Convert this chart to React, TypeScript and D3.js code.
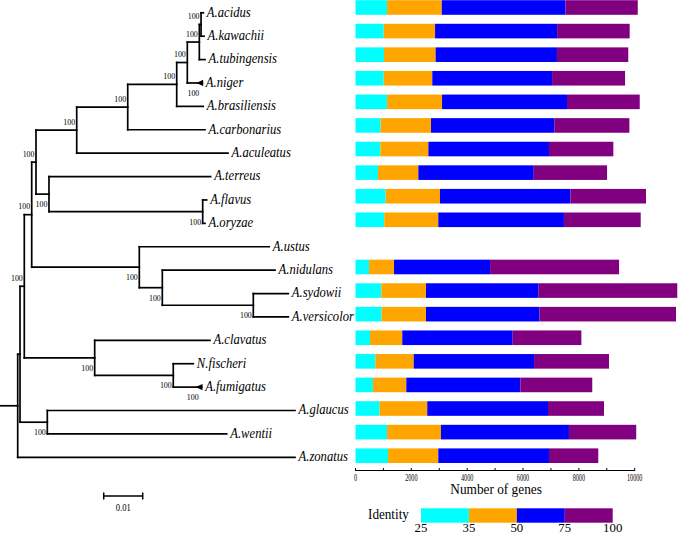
import React from "react";
import * as d3 from "d3";

// ---------- DATA ----------
const species = [
  "A.acidus", "A.kawachii", "A.tubingensis", "A.niger", "A.brasiliensis",
  "A.carbonarius", "A.aculeatus", "A.terreus", "A.flavus", "A.oryzae",
  "A.ustus", "A.nidulans", "A.sydowii", "A.versicolor", "A.clavatus",
  "N.fischeri", "A.fumigatus", "A.glaucus", "A.wentii", "A.zonatus",
];

// number of genes per identity class (segment counts)
const identity25to35 = [1130, 1010, 1020, 1010, 1130, 900, 890, 805, 1080, 1030, 0, 485, 925, 935, 520, 710, 625, 865, 1130, 1165];
const identity35to50 = [1960, 1840, 1850, 1740, 1970, 1805, 1720, 1445, 1945, 1935, 0, 895, 1600, 1590, 1155, 1375, 1195, 1705, 1930, 1800];
const identity50to75 = [4430, 4370, 4345, 4290, 4475, 4415, 4320, 4135, 4670, 4500, 0, 3440, 4020, 4060, 3955, 4310, 4085, 4325, 4585, 3965];
const identity75to100 = [2590, 2600, 2555, 2615, 2605, 2690, 2305, 2625, 2710, 2750, 0, 4620, 4980, 4895, 2460, 2685, 2575, 2005, 2410, 1765];

const identityBreaks = ["25", "35", "50", "75", "100"];
const segmentColors = ["#00FFFF", "#FFA500", "#0000FF", "#800080"];
const axisTicks = [0, 1000, 2000, 3000, 4000, 5000, 6000, 7000, 8000, 9000, 10000];

// phylogeny (branch lengths in substitutions/site)
type TNode = { name?: string; length: number; support?: string; place?: string; tipSupport?: string; children?: TNode[] };
const leaf = (name: string, length: number, tipSupport?: string): TNode => ({ name, length, tipSupport });
const clade = (length: number, support: string | undefined, place: string, children: TNode[]): TNode => ({ length, support, place, children });

const treeData: TNode = clade(0.00454, undefined, "above", [
  clade(0.00059, undefined, "above", [
    clade(0.0011, "100", "above", [
      clade(0.0019, "100", "above", [
        clade(0.0011, "100", "above", [
          clade(0.01044, "100", "above", [
            clade(0.01308, "100", "above", [
              clade(0.01256, "100", "above", [
                clade(0.00272, "100", "above", [
                  clade(0.00308, "100", "above", [
                    clade(0.00044, "100", "above", [
                      leaf("A.acidus", 0.00059),
                      leaf("A.kawachii", 0.00077),
                    ]),
                    leaf("A.tubingensis", 0.00146),
                  ]),
                  leaf("A.niger", 0.00385, "100"),
                ]),
                leaf("A.brasiliensis", 0.00682),
              ]),
              leaf("A.carbonarius", 0.01982),
            ]),
            leaf("A.aculeatus", 0.03879),
          ]),
          clade(0.00333, "100", "below", [
            leaf("A.terreus", 0.04146),
            clade(0.03941, "100", "below", [
              leaf("A.flavus", 0.00103),
              leaf("A.oryzae", 0.00059),
            ]),
          ]),
        ]),
        clade(0.02759, "100", "below", [
          leaf("A.ustus", 0.03333),
          clade(0.0059, "100", "below", [
            leaf("A.nidulans", 0.0289),
            clade(0.02333, "100", "below", [
              leaf("A.sydowii", 0.00897),
              leaf("A.versicolor", 0.00897),
            ]),
          ]),
        ]),
      ]),
      clade(0.01805, "100", "below", [
        leaf("A.clavatus", 0.02956),
        clade(0.02015, "100", "below", [
          leaf("N.fischeri", 0.00513),
          leaf("A.fumigatus", 0.00728, "100"),
        ]),
      ]),
    ]),
    clade(0.007, "100", "below", [
      leaf("A.glaucus", 0.06351),
      leaf("A.wentii", 0.046),
    ]),
  ]),
  leaf("A.zonatus", 0.0711),
]);

// ---------- LAYOUT ----------
const W = 678;
const H = 535;
const SERIF = "'Liberation Serif', 'Times New Roman', serif";

export default function App() {
  // tree scales
  const xTree = d3.scaleLinear().domain([0, 0.01]).range([0, 39]);
  const yTip = d3.scalePoint<string>().domain(species).range([12.8, 457.3]);

  const root = d3.hierarchy<TNode>(treeData, (d) => d.children);
  root.eachBefore((n: any) => {
    const parentDist = n.parent ? n.parent.dist : 0;
    n.dist = parentDist + n.data.length;
  });
  root.eachAfter((n: any) => {
    if (n.children) {
      const ys = n.children.map((c: any) => c.yy);
      n.yy = (ys[0] + ys[ys.length - 1]) / 2;
    } else {
      n.yy = yTip(n.data.name) as number;
    }
  });

  const treeLines: JSX.Element[] = [];
  const treeTexts: JSX.Element[] = [];
  let k = 0;
  root.each((n: any) => {
    const x = xTree(n.dist);
    const px = n.parent ? xTree(n.parent.dist) : xTree(0);
    treeLines.push(<line key={"h" + k++} x1={px} x2={x} y1={n.yy} y2={n.yy} />);
    if (n.children) {
      const ys = n.children.map((c: any) => c.yy);
      treeLines.push(<line key={"v" + k++} x1={x} x2={x} y1={ys[0]} y2={ys[ys.length - 1]} />);
      if (n.data.support) {
        const ty = n.data.place === "above" ? n.yy - 5.5 : n.yy + 13;
        treeTexts.push(
          <text key={"s" + k++} transform={`translate(${x - 1.5},${ty}) scale(0.9,1)`} textAnchor="end" fontSize={8.8} fontFamily={SERIF}>
            {n.data.support}
          </text>
        );
      }
    } else {
      treeTexts.push(
        <text key={"l" + k++} transform={`translate(${x + 3.5},${n.yy + 3.8}) scale(0.93,1)`} fontSize={13.6} fontStyle="italic" fontFamily={SERIF}>
          {n.data.name}
        </text>
      );
      if (n.data.tipSupport) {
        treeLines.push(
          <path key={"m" + k++} d={`M${x - 4},${n.yy} L${x},${n.yy - 1.8} L${x},${n.yy + 1.8} Z`} fill="#000" />
        );
        treeTexts.push(
          <text key={"t" + k++} transform={`translate(${x - 3},${n.yy + 13}) scale(0.9,1)`} textAnchor="end" fontSize={8.8} fontFamily={SERIF}>
            {n.data.tipSupport}
          </text>
        );
      }
    }
  });

  // bar scales
  const xBar = d3.scaleLinear().domain([0, 10000]).range([355.5, 634.7]);
  const yBar = d3.scalePoint<string>().domain(species).range([7.5, 455.7]);
  const barH = 14.6;
  const series = [identity25to35, identity35to50, identity50to75, identity75to100];
  const table = species.map((s, i) => {
    const o: any = { species: s };
    series.forEach((arr, j) => (o["k" + j] = arr[i]));
    return o;
  });
  const stacked = d3.stack<any>().keys(["k0", "k1", "k2", "k3"])(table);

  const axisY = 470.5;
  const legendX = d3.scalePoint<string>().domain(identityBreaks).range([421, 612.7]);
  const scaleBarX = 103.7;
  const scaleBarY = 496;

  return (
    <svg width={W} height={H} style={{ position: "absolute", left: 0, top: 0, background: "#fff" }}>
      <rect x={0} y={0} width={W} height={H} fill="#fff" />
      {/* tree */}
      <g stroke="#000" strokeWidth={1.7} strokeLinecap="square">{treeLines}</g>
      <g fill="#000">{treeTexts}</g>

      {/* stacked bars */}
      {stacked.map((layer, j) => (
        <g key={j} fill={segmentColors[j]}>
          {layer.map((d, i) =>
            d[1] - d[0] > 0 ? (
              <rect
                key={i}
                x={xBar(d[0])}
                width={xBar(d[1]) - xBar(d[0])}
                y={(yBar(species[i]) as number) - barH / 2}
                height={barH}
              />
            ) : null
          )}
        </g>
      ))}

      {/* x axis */}
      <g>
        <line x1={xBar(0)} x2={xBar(10000)} y1={axisY} y2={axisY} stroke="#000" strokeWidth={1} />
        {axisTicks.map((t) => (
          <g key={t}>
            <line x1={xBar(t)} x2={xBar(t)} y1={axisY - 2.5} y2={axisY + 0.5} stroke="#000" strokeWidth={1} />
            {t % 2000 === 0 ? (
              <text transform={`translate(${xBar(t)},${axisY + 10}) scale(0.56,1)`} textAnchor="middle" fontSize={11} fontFamily={SERIF}>
                {t}
              </text>
            ) : null}
          </g>
        ))}
        <text transform={`translate(${(xBar(0) + xBar(10000)) / 2 + 1},494.3) scale(0.95,1)`} textAnchor="middle" fontSize={14} fontFamily={SERIF}>
          Number of genes
        </text>
      </g>

      {/* legend */}
      <g>
        <text transform={`translate(368,519.3) scale(0.94,1)`} fontSize={14} fontFamily={SERIF}>Identity</text>
        {segmentColors.map((c, j) => (
          <rect
            key={c}
            x={legendX(identityBreaks[j]) as number}
            width={(legendX(identityBreaks[j + 1]) as number) - (legendX(identityBreaks[j]) as number)}
            y={508.3}
            height={14.4}
            fill={c}
          />
        ))}
        {identityBreaks.map((b) => (
          <text key={b} transform={`translate(${legendX(b)},531.8) scale(0.95,1)`} textAnchor="middle" fontSize={13.5} fontFamily={SERIF}>
            {b}
          </text>
        ))}
      </g>

      {/* scale bar */}
      <g stroke="#000" strokeWidth={1.5}>
        <line x1={scaleBarX} x2={scaleBarX + xTree(0.01) - xTree(0)} y1={scaleBarY} y2={scaleBarY} />
        <line x1={scaleBarX} x2={scaleBarX} y1={scaleBarY - 3.5} y2={scaleBarY + 3.5} />
        <line x1={scaleBarX + xTree(0.01)} x2={scaleBarX + xTree(0.01)} y1={scaleBarY - 3.5} y2={scaleBarY + 3.5} />
      </g>
      <text transform={`translate(${scaleBarX + xTree(0.005)},510.5) scale(0.78,1)`} textAnchor="middle" fontSize={11} fontFamily={SERIF}>
        0.01
      </text>
    </svg>
  );
}
